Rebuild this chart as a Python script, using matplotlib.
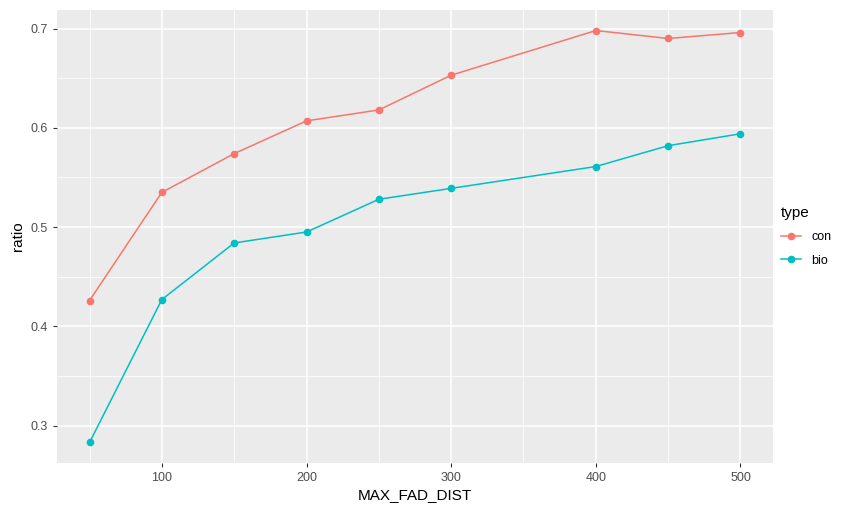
import matplotlib
matplotlib.use("Agg")
import matplotlib.pyplot as plt
from matplotlib.ticker import MultipleLocator
from matplotlib.lines import Line2D

plt.rcParams['font.family'] = ['Liberation Sans', 'DejaVu Sans']

# values
max_fad_dist = [50, 100, 150, 200, 250, 300, 400, 450, 500]
ratio_con = [0.426, 0.535, 0.574, 0.607, 0.618, 0.653, 0.698, 0.690, 0.696]
ratio_bio = [0.283, 0.427, 0.484, 0.495, 0.528, 0.539, 0.561, 0.582, 0.594]
series_names = ['con', 'bio']
series_colors = ['#F8766D', '#00BFC4']

fig = plt.figure(figsize=(8.58, 5.05), dpi=100)
ax = fig.add_axes([57/858, 1 - 463/505, (773 - 57)/858, (463 - 10)/505])

ax.set_facecolor('#EBEBEB')
for s in ax.spines.values():
    s.set_visible(False)

ax.xaxis.set_major_locator(MultipleLocator(100))
ax.xaxis.set_minor_locator(MultipleLocator(50))
ax.yaxis.set_major_locator(MultipleLocator(0.1))
ax.yaxis.set_minor_locator(MultipleLocator(0.05))
ax.grid(which='major', color='white', linewidth=1.1)
ax.grid(which='minor', color='white', linewidth=0.55)
ax.set_axisbelow(True)

for vals, name, col in zip([ratio_con, ratio_bio], series_names, series_colors):
    ax.plot(max_fad_dist, vals, color=col, linewidth=1.1, marker='o',
            markersize=4.5, label=name)

ax.set_xlim(27.5, 522.5)
ax.set_ylim(0.2623, 0.7187)
ax.tick_params(which='major', length=3, color='#333333', labelsize=9,
               labelcolor='#4D4D4D', width=0.8)
ax.tick_params(which='minor', length=0)
ax.yaxis.set_major_formatter(matplotlib.ticker.FormatStrFormatter('%.1f'))

ax.set_xlabel('MAX_FAD_DIST', fontsize=11, labelpad=3)
ax.set_ylabel('ratio', fontsize=11, labelpad=4)

handles = [Line2D([0], [0], color=c, marker='o', markersize=4.5, linewidth=1.1)
           for c in series_colors]
leg = fig.legend(handles, series_names, title='type', loc='upper left',
                 bbox_to_anchor=(770/858, 1 - 195/505), frameon=False,
                 fontsize=9, title_fontsize=11, handlelength=1.6,
                 labelspacing=0.9, alignment='left')

fig.savefig('out.png', dpi=100)
